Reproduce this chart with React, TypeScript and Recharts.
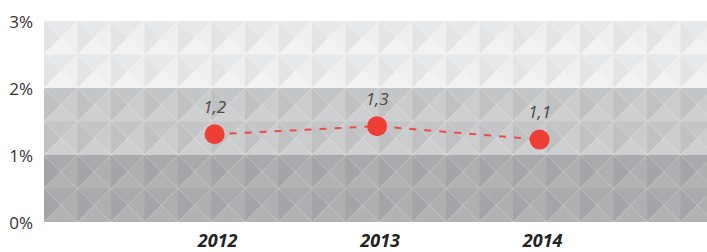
import { LineChart, Line, XAxis, YAxis, ReferenceArea, LabelList } from "recharts";

const years = [2012, 2013, 2014];
const rates = [1.31, 1.43, 1.23];
const rateLabels = ["1,2", "1,3", "1,1"];
const yTicks = [0, 1, 2, 3];

// band: [from, to, shades of left, top, right, bottom triangle]
const bands: [number, number, string[]][] = [
  [0, 1, ["#a4a5a8", "#a9aaad", "#aeafb1", "#b1b2b4"]],
  [1, 2, ["#c0c1c3", "#c4c5c7", "#cbcccd", "#cecfd0"]],
  [2, 3, ["#e3e4e6", "#e7e8e9", "#efeff0", "#f2f2f3"]],
];

const data = years.map((year, i) => ({ year, rate: rates[i], label: rateLabels[i] }));

function bandShape(id: string, shades: string[]) {
  return (props: any) => {
    const { x, y, width, height } = props;
    const s = height / 2;
    const h = s / 2;
    return (
      <g>
        <defs>
          <pattern id={id} x={x} y={y} width={s} height={s} patternUnits="userSpaceOnUse">
            <polygon points={`0,0 ${h},${h} 0,${s}`} fill={shades[0]} />
            <polygon points={`0,0 ${s},0 ${h},${h}`} fill={shades[1]} />
            <polygon points={`${s},0 ${s},${s} ${h},${h}`} fill={shades[2]} />
            <polygon points={`0,${s} ${h},${h} ${s},${s}`} fill={shades[3]} />
          </pattern>
        </defs>
        <rect x={x} y={y} width={width} height={height} fill={`url(#${id})`} />
      </g>
    );
  };
}

function YTick({ y, payload }: any) {
  return (
    <text x={33} y={y} textAnchor="end" dominantBaseline="central" fontSize={17} fill="#333" fontFamily="Open Sans">
      {`${payload.value}%`}
    </text>
  );
}

function XTick({ x, y, payload }: any) {
  return (
    <text x={x + 3} y={y + 10} textAnchor="middle" dominantBaseline="central" fontSize={18} fontWeight="bold" fontStyle="italic" fill="#222" fontFamily="Open Sans">
      {payload.value}
    </text>
  );
}

function RateLabel({ x, y, value }: any) {
  return (
    <text x={x} y={y - 28} textAnchor="middle" dominantBaseline="central" fontSize={17} fontStyle="italic" fill="#4a4a4a" fontFamily="Open Sans">
      {value}
    </text>
  );
}

export default function App() {
  return (
    <div style={{ position: "fixed", left: 0, top: 0, width: 707, height: 252, background: "#fff" }}>
      <LineChart width={707} height={252} data={data} margin={{ top: 21, right: 0, bottom: 0, left: 0 }}>
        <XAxis
          dataKey="year"
          type="number"
          domain={[2010.95, 2015.03]}
          ticks={years}
          axisLine={false}
          tickLine={false}
          tick={<XTick />}
          height={30}
        />
        <YAxis domain={[0, 3]} ticks={yTicks} axisLine={false} tickLine={false} tick={<YTick />} width={44} />
        {bands.map(([from, to, shades], i) => (
          <ReferenceArea
            key={i}
            y1={from}
            y2={to}
            shape={bandShape(`band${i}`, shades)}
            ifOverflow="visible"
          />
        ))}
        <Line
          type="linear"
          dataKey="rate"
          stroke="#ef4b43"
          strokeWidth={2}
          strokeDasharray="7 8"
          dot={{ r: 10, fill: "#ef3e36", stroke: "none" }}
          isAnimationActive={false}
        >
          <LabelList dataKey="label" content={<RateLabel />} />
        </Line>
      </LineChart>
    </div>
  );
}
